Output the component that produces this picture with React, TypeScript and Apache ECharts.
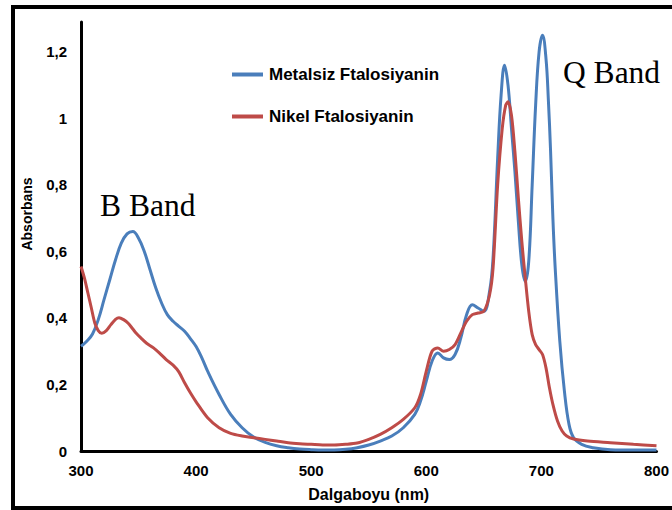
import React, { useEffect, useRef } from "react";
import * as echarts from "echarts";

const metalsizWl = [300,305,310,315,320,325,330,335,340,345,350,355,360,365,370,375,380,385,390,395,400,405,410,420,430,440,450,460,470,480,490,500,510,520,530,540,550,560,570,580,590,595,600,605,610,615,620,625,630,635,640,645,650,655,658,662,665,668,671,674,677,680,683,686,689,692,695,698,701,704,706,708,710,712,716,720,724,728,735,745,760,780,800];
const metalsizAbs = [0.315,0.33,0.352,0.395,0.455,0.515,0.575,0.625,0.653,0.66,0.64,0.60,0.545,0.49,0.445,0.41,0.39,0.375,0.36,0.338,0.314,0.28,0.24,0.17,0.11,0.07,0.042,0.026,0.016,0.01,0.006,0.004,0.003,0.003,0.005,0.01,0.018,0.03,0.045,0.07,0.11,0.15,0.21,0.27,0.295,0.28,0.275,0.29,0.34,0.41,0.44,0.43,0.42,0.48,0.58,0.88,1.07,1.16,1.10,0.97,0.84,0.69,0.56,0.51,0.57,0.8,1.04,1.2,1.25,1.18,1.06,0.9,0.7,0.55,0.33,0.18,0.08,0.04,0.02,0.01,0.004,0.003,0.003];

const nikelWl = [300,303,306,309,312,315,318,322,326,330,333,337,341,345,348,352,357,363,368,374,380,385,390,395,400,410,420,430,440,450,460,470,480,490,500,510,520,530,540,550,560,570,580,590,595,600,605,610,615,620,625,630,635,640,645,650,655,658,662,666,669,671,674,677,680,683,686,689,692,695,698,701,704,707,710,714,718,722,728,740,760,780,800];
const nikelAbs = [0.555,0.52,0.475,0.43,0.385,0.362,0.354,0.362,0.38,0.396,0.401,0.395,0.384,0.367,0.354,0.34,0.324,0.31,0.295,0.275,0.258,0.238,0.205,0.175,0.148,0.1,0.07,0.053,0.045,0.04,0.035,0.03,0.025,0.022,0.02,0.018,0.018,0.02,0.024,0.035,0.05,0.07,0.095,0.13,0.17,0.24,0.30,0.31,0.30,0.305,0.32,0.355,0.39,0.41,0.415,0.42,0.47,0.55,0.8,0.97,1.04,1.05,1.01,0.9,0.76,0.63,0.52,0.42,0.35,0.32,0.305,0.29,0.25,0.19,0.14,0.09,0.06,0.045,0.036,0.03,0.025,0.02,0.016];

const seriesNames = ["Metalsiz Ftalosiyanin", "Nikel Ftalosiyanin"];
const xTicks = [300, 400, 500, 600, 700, 800];
const yTicks = [0, 0.2, 0.4, 0.6, 0.8, 1, 1.2];

const BLUE = "#4A7EBB";
const RED = "#BE4B48";
const SANS = "'Liberation Sans', Arial, sans-serif";
const SERIF = "'Liberation Serif', 'Times New Roman', serif";

export default function App() {
  const ref = useRef<HTMLDivElement>(null);
  useEffect(() => {
    if (!ref.current) return;
    const chart = echarts.init(ref.current, null, { renderer: "svg" });
    const fmtY = (v: number) => {
      if (Math.abs(v - Math.round(v)) < 1e-6) return String(Math.round(v));
      return v.toFixed(1).replace(".", ",");
    };
    chart.setOption({
      animation: false,
      backgroundColor: "#ffffff",
      grid: { left: 81, right: 14, top: 22, bottom: 59, containLabel: false },
      legend: {
        orient: "vertical",
        left: 227,
        top: 61,
        itemGap: 25,
        itemWidth: 31,
        itemHeight: 4,
        icon: "rect",
        data: seriesNames,
        textStyle: { fontFamily: SANS, fontWeight: "bold", fontSize: 17, color: "#000", padding: [0, 0, 0, 1] },
      },
      xAxis: {
        type: "value",
        min: xTicks[0],
        max: xTicks[xTicks.length - 1],
        interval: 100,
        name: "Dalgaboyu (nm)",
        nameLocation: "middle",
        nameGap: 35,
        nameTextStyle: { fontFamily: SANS, fontWeight: "bold", fontSize: 16, color: "#000" },
        axisLine: { onZero: false, lineStyle: { color: "#000", width: 3 } },
        axisTick: { show: false },
        splitLine: { show: false },
        axisLabel: { margin: 12, fontFamily: SANS, fontWeight: "bold", fontSize: 15, color: "#000" },
      },
      yAxis: {
        type: "value",
        min: 0,
        max: 1.29,
        interval: 0.2,
        axisLine: { show: true, lineStyle: { color: "#000", width: 3 } },
        axisTick: { show: false },
        splitLine: { show: false },
        axisLabel: {
          margin: 14,
          showMaxLabel: false,
          fontFamily: SANS,
          fontWeight: "bold",
          fontSize: 15,
          color: "#000",
          formatter: (v: number) => (yTicks.some((t) => Math.abs(t - v) < 1e-6) ? fmtY(v) : ""),
        },
      },
      series: [
        {
          name: seriesNames[0],
          type: "line",
          data: metalsizWl.map((w, i) => [w, metalsizAbs[i]]),
          smooth: 0.4,
          showSymbol: false,
          symbol: "none",
          lineStyle: { color: BLUE, width: 3 },
          itemStyle: { color: BLUE },
          z: 2,
        },
        {
          name: seriesNames[1],
          type: "line",
          data: nikelWl.map((w, i) => [w, nikelAbs[i]]),
          smooth: 0.3,
          showSymbol: false,
          symbol: "none",
          lineStyle: { color: RED, width: 3 },
          itemStyle: { color: RED },
          z: 3,
        },
      ],
      graphic: [
        {
          type: "rect",
          shape: { x: 13, y: 7, width: 700, height: 501 },
          style: { fill: "none", stroke: "#000", lineWidth: 4 },
          silent: true,
        },
        {
          type: "text",
          x: 27,
          y: 214,
          rotation: Math.PI / 2,
          style: {
            text: "Absorbans",
            fontFamily: SANS,
            fontWeight: "bold",
            fontSize: 14,
            fill: "#000",
            align: "center",
            verticalAlign: "middle",
          },
        },
        {
          type: "text",
          x: 100,
          y: 205,
          style: { text: "B Band", fontFamily: SERIF, fontSize: 31.5, fill: "#000", align: "left", verticalAlign: "middle" },
        },
        {
          type: "text",
          x: 563,
          y: 72,
          style: { text: "Q Band", fontFamily: SERIF, fontSize: 31.5, fill: "#000", align: "left", verticalAlign: "middle" },
        },
      ],
    });
    return () => chart.dispose();
  }, []);
  return <div ref={ref} style={{ position: "fixed", left: 0, top: 0, width: 672, height: 510 }} />;
}
